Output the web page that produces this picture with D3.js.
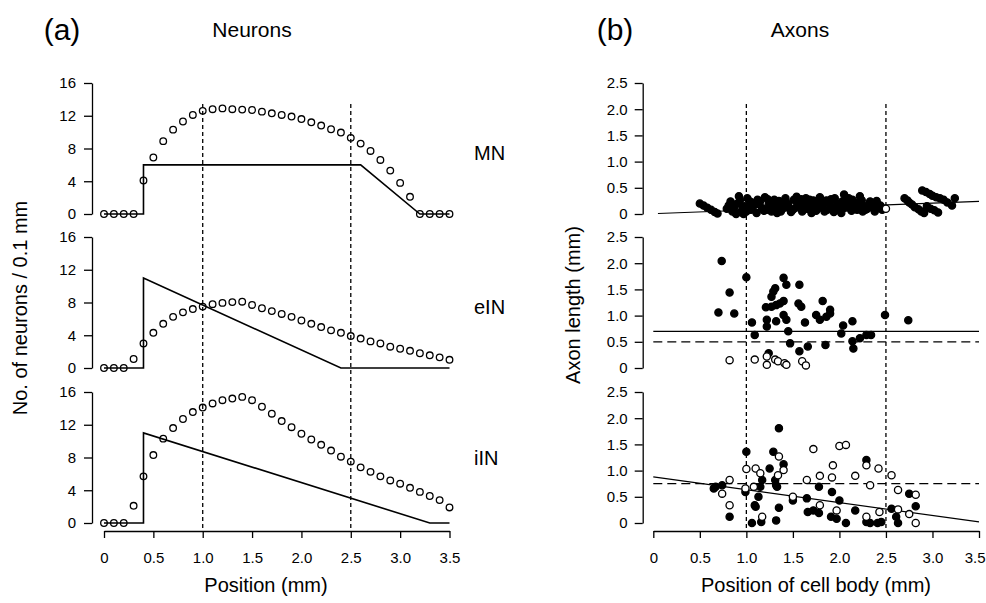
<!DOCTYPE html>
<html>
<head>
<meta charset="utf-8">
<script src="https://cdn.jsdelivr.net/npm/d3@7"></script>
<style>
  body { margin: 0; background: #fff; }
  svg text { font-family: "Liberation Sans", Arial, Helvetica, sans-serif; fill: #000; }
</style>
</head>
<body>
<svg id="chart" width="986" height="603"></svg>
<script>
// ---- panel (a): neuron densities, one value per 0.1 mm ----
const positions = [0, 0.1, 0.2, 0.3, 0.4, 0.5, 0.6, 0.7, 0.8, 0.9, 1.0, 1.1, 1.2, 1.3, 1.4, 1.5, 1.6, 1.7,
  1.8, 1.9, 2.0, 2.1, 2.2, 2.3, 2.4, 2.5, 2.6, 2.7, 2.8, 2.9, 3.0, 3.1, 3.2, 3.3, 3.4, 3.5]

const mnCounts = [0, 0, 0, 0, 4.1, 6.9, 8.9, 10.3, 11.3, 12.1, 12.6, 12.8, 12.9, 12.8, 12.75, 12.7, 12.5, 12.3,
  12.1, 11.9, 11.6, 11.2, 10.8, 10.35, 9.95, 9.3, 8.6, 7.7, 6.6, 5.3, 3.8, 2.1, 0, 0, 0, 0]
const einCounts = [0, 0, 0, 1.1, 3.0, 4.3, 5.4, 6.25, 6.8, 7.2, 7.5, 7.8, 7.95, 8.05, 8.1, 7.7, 7.3, 6.95,
  6.6, 6.25, 5.8, 5.4, 5.0, 4.6, 4.3, 3.9, 3.6, 3.25, 3.0, 2.6, 2.35, 2.1, 1.8, 1.55, 1.3, 1.0]
const iinCounts = [0, 0, 0, 2.1, 5.7, 8.3, 10.3, 11.6, 12.7, 13.55, 14.1, 14.6, 15.0, 15.2, 15.4, 15.0, 14.2, 13.35,
  12.45, 11.7, 10.9, 10.2, 9.55, 8.85, 8.1, 7.5, 6.8, 6.25, 5.7, 5.2, 4.8, 4.3, 3.8, 3.3, 2.8, 1.9]

// model profiles (solid lines)
const mnModelX = [0, 0.4, 0.4, 2.6, 3.2, 3.5]
const mnModelY = [0, 0, 6, 6, 0, 0]
const einModelX = [0, 0.4, 0.4, 2.4, 3.5]
const einModelY = [0, 0, 11, 0, 0]
const iinModelX = [0, 0.4, 0.4, 3.3, 3.5]
const iinModelY = [0, 0, 11, 0, 0]

const rowLabels = ['MN', 'eIN', 'iIN']
const neuronTicks = [0, 4, 8, 12, 16]
const positionTicks = [0, 0.5, 1.0, 1.5, 2.0, 2.5, 3.0, 3.5]
const boundaries = [1.0, 2.5]

// ---- panel (b): axon length vs position of cell body ----
const mnAxonX = [0.50, 0.54, 0.58, 0.62, 0.66, 0.69, 0.79, 0.83, 0.85, 0.88, 0.89, 0.92, 0.93, 0.95, 0.97, 0.98,
  1.01, 1.03, 1.05, 1.08, 1.11, 1.12, 1.14, 1.17, 1.20, 1.22, 1.24, 1.27, 1.29, 1.30, 1.33, 1.34, 1.37, 1.40,
  1.43, 1.46, 1.48, 1.51, 1.53, 1.54, 1.57, 1.60, 1.62, 1.64, 1.66, 1.68, 1.70, 1.73, 1.76, 1.79, 1.81, 1.84,
  1.86, 1.89, 1.92, 1.95, 1.97, 2.00, 2.02, 2.05, 2.07, 2.09, 2.12, 2.14, 2.16, 2.19, 2.20, 2.22, 2.25, 2.27,
  2.30, 2.33, 2.35, 2.38, 2.41, 2.43, 2.46,
  0.81, 0.87, 0.91, 0.96, 1.00, 1.04, 1.07, 1.10, 1.15, 1.19, 1.23, 1.26, 1.31, 1.35, 1.39, 1.42, 1.45, 1.50,
  1.55, 1.59, 1.63, 1.67, 1.72, 1.75, 1.78, 1.83, 1.87, 1.91, 1.94, 1.99, 2.03, 2.06, 2.10, 2.13, 2.18, 2.21,
  2.24, 2.28, 2.32, 2.36, 2.40, 2.44,
  2.70, 2.73, 2.75, 2.78, 2.81, 2.85, 2.88, 2.91,
  2.89, 2.93, 2.97, 3.00, 3.04, 3.08, 3.12, 3.16, 3.21, 3.24, 2.94, 2.98, 3.02, 3.06]
const mnAxonY = [0.20, 0.16, 0.12, 0.08, 0.04, 0.01, 0.10, 0.24, 0.05, 0.18, 0.00, 0.34, 0.26, 0.05, 0.00, 0.15,
  0.30, 0.15, 0.08, 0.21, 0.02, 0.27, 0.18, 0.11, 0.32, 0.08, 0.18, 0.05, 0.20, 0.27, 0.02, 0.15, 0.05, 0.24,
  0.17, 0.11, 0.04, 0.27, 0.12, 0.33, 0.18, 0.05, 0.20, 0.30, 0.10, 0.27, 0.02, 0.15, 0.22, 0.32, 0.12, 0.05,
  0.26, 0.21, 0.12, 0.30, 0.20, 0.08, 0.02, 0.37, 0.26, 0.18, 0.10, 0.27, 0.18, 0.08, 0.22, 0.34, 0.05, 0.15,
  0.10, 0.24, 0.20, 0.05, 0.18, 0.12, 0.08,
  0.16, 0.08, 0.20, 0.12, 0.05, 0.24, 0.14, 0.19, 0.25, 0.06, 0.28, 0.12, 0.06, 0.25, 0.10, 0.30, 0.20, 0.08,
  0.22, 0.28, 0.10, 0.18, 0.26, 0.06, 0.14, 0.20, 0.08, 0.28, 0.04, 0.15, 0.24, 0.12, 0.30, 0.06, 0.20, 0.14,
  0.26, 0.08, 0.18, 0.12, 0.25, 0.16,
  0.30, 0.26, 0.22, 0.18, 0.13, 0.09, 0.05, 0.02,
  0.45, 0.42, 0.38, 0.35, 0.32, 0.30, 0.27, 0.22, 0.16, 0.30, 0.15, 0.10, 0.07, 0.03]
const mnAxonOpenX = [2.5]
const mnAxonOpenY = [0.1]
const mnFitX = [0.05, 3.5]
const mnFitY = [0.01, 0.24]

const einAxonX = [0.70, 0.735, 0.82, 0.87, 1.0, 1.06, 1.09, 1.21, 1.22, 1.22, 1.24, 1.27, 1.27, 1.29, 1.31, 1.32,
  1.32, 1.36, 1.40, 1.40, 1.40, 1.43, 1.43, 1.45, 1.47, 1.56, 1.57, 1.59, 1.57, 1.63, 1.66, 1.75, 1.79, 1.82,
  1.86, 1.85, 1.90, 1.90, 2.02, 2.04, 2.14, 2.14, 2.15, 2.22, 2.29, 2.34, 2.49, 2.74]
const einAxonY = [1.06, 2.04, 1.44, 1.04, 1.73, 0.87, 0.63, 1.16, 0.92, 0.79, 0.28, 1.17, 1.36, 1.46, 1.52, 1.20,
  0.89, 1.23, 1.28, 1.72, 1.01, 1.59, 0.92, 0.70, 0.47, 1.23, 1.59, 1.17, 0.32, 0.87, 0.41, 1.01, 0.92, 1.28,
  0.98, 0.44, 1.04, 1.11, 0.66, 0.81, 0.89, 0.51, 0.37, 0.57, 0.63, 0.63, 1.01, 0.91]
const einAxonOpenX = [0.82, 1.09, 1.22, 1.22, 1.31, 1.34, 1.41, 1.43, 1.60, 1.64]
const einAxonOpenY = [0.15, 0.16, 0.06, 0.22, 0.16, 0.13, 0.09, 0.06, 0.13, 0.05]
const einSolid = 0.70
const einDashed = 0.50

const iinAxonX = [0.65, 0.67, 0.74, 0.82, 1.0, 0.99, 1.06, 1.09, 1.10, 1.13, 1.15, 1.16, 1.17, 1.25, 1.29, 1.31,
  1.32, 1.33, 1.32, 1.35, 1.35, 1.40, 1.50, 1.65, 1.66, 1.72, 1.78, 1.78, 1.91, 1.92, 1.97, 2.00, 2.07, 2.17,
  2.29, 2.29, 2.33, 2.41, 2.45, 2.56, 2.61, 2.63, 2.75, 2.82]
const iinAxonY = [0.66, 0.69, 0.72, 0.12, 1.36, 0.59, 0.0, 0.34, 0.31, 0.50, 0.69, 0.02, 0.82, 1.04, 1.36, 0.82,
  0.72, 0.69, 0.05, 1.81, 0.29, 1.12, 0.43, 0.47, 0.21, 0.24, 0.19, 0.69, 0.12, 0.59, 0.08, 0.43, 0.0, 0.24,
  1.20, 0.02, 0.0, 0.0, 0.02, 0.27, 0.12, 0.0, 0.56, 0.32]
const iinAxonOpenX = [0.74, 0.82, 0.82, 0.99, 1.0, 1.1, 1.08, 1.15, 1.17, 1.34, 1.35, 1.40, 1.50, 1.65, 1.72,
  1.79, 1.79, 1.93, 1.92, 1.97, 2.0, 2.07, 2.17, 2.29, 2.29, 2.33, 2.42, 2.43, 2.56, 2.63, 2.63, 2.75, 2.82, 2.82]
const iinAxonOpenY = [0.56, 0.82, 0.34, 0.66, 1.03, 1.04, 0.69, 0.95, 0.12, 0.91, 1.27, 1.01, 0.50, 0.82, 1.41,
  0.90, 0.34, 1.10, 0.87, 0.24, 1.47, 1.49, 0.90, 0.12, 1.10, 0.72, 1.04, 0.21, 0.91, 0.63, 0.26, 0.17, 0.54, 0.0]
const iinFitX = [0, 3.5]
const iinFitY = [0.88, 0.02]
const iinDashed = 0.75

const axonTicks = [0, 0.5, 1.0, 1.5, 2.0, 2.5]

// ---- layout ----
const rows = [{ top: 83, bottom: 214 }, { top: 237, bottom: 368 }, { top: 392, bottom: 523 }]
const rowLabelY = [160, 314, 465]
const xAxisY = 531
const dashTop = 104
const dashBottom = 528
const tickFont = '"DejaVu Sans", Verdana, sans-serif'

const svg = d3.select('#chart')

const xA = d3.scaleLinear().domain([0, 3.5]).range([104, 449.5])
const xB = d3.scaleLinear().domain([0, 3.5]).range([653.3, 979])
const yAxisXA = 92
const yAxisXB = 642.7

const fmt = d => (d === 0 ? '0' : d3.format('.1f')(d))

function styleAxis(g) {
  g.selectAll('path').attr('stroke', '#000').attr('stroke-width', 1.3)
  g.selectAll('line').attr('stroke', '#000').attr('stroke-width', 1.3)
  g.selectAll('text').attr('font-size', 15).attr('fill', '#000').attr('font-family', tickFont)
}

// vertical dashed boundary lines
;[xA, xB].forEach(x => {
  svg.append('g')
    .selectAll('line')
    .data(boundaries)
    .enter()
    .append('line')
    .attr('x1', d => x(d))
    .attr('x2', d => x(d))
    .attr('y1', dashTop)
    .attr('y2', dashBottom)
    .attr('stroke', '#000')
    .attr('stroke-width', 1.3)
    .attr('stroke-dasharray', '4,3')
})

// ---- panel (a) rows ----
const neuronSeries = [
  { counts: mnCounts, mx: mnModelX, my: mnModelY },
  { counts: einCounts, mx: einModelX, my: einModelY },
  { counts: iinCounts, mx: iinModelX, my: iinModelY }
]

neuronSeries.forEach((s, i) => {
  const y = d3.scaleLinear().domain([0, 16]).range([rows[i].bottom, rows[i].top])

  svg.append('g')
    .attr('transform', `translate(${yAxisXA},0)`)
    .call(d3.axisLeft(y).tickValues(neuronTicks).tickSize(8).tickSizeOuter(0).tickPadding(8).tickFormat(d3.format('d')))
    .call(styleAxis)

  const model = s.mx.map((v, k) => [v, s.my[k]])
  svg.append('path')
    .datum(model)
    .attr('fill', 'none')
    .attr('stroke', '#000')
    .attr('stroke-width', 1.6)
    .attr('d', d3.line().x(d => xA(d[0])).y(d => y(d[1])))

  svg.append('g')
    .selectAll('circle')
    .data(s.counts)
    .enter()
    .append('circle')
    .attr('cx', (d, k) => xA(positions[k]))
    .attr('cy', d => y(d))
    .attr('r', 3.3)
    .attr('fill', 'none')
    .attr('stroke', '#000')
    .attr('stroke-width', 1.3)

  svg.append('text')
    .text(rowLabels[i])
    .attr('x', 474)
    .attr('y', rowLabelY[i])
    .attr('font-size', 20)
})

svg.append('g')
  .attr('transform', `translate(0,${xAxisY})`)
  .call(d3.axisBottom(xA).tickValues(positionTicks).tickSize(7).tickSizeOuter(0).tickPadding(14).tickFormat(fmt))
  .call(styleAxis)

// ---- panel (b) rows ----
function dots(x, y, xs, ys, filled) {
  svg.append('g')
    .selectAll('circle')
    .data(xs)
    .enter()
    .append('circle')
    .attr('cx', d => x(d))
    .attr('cy', (d, k) => y(ys[k]))
    .attr('r', 3.6)
    .attr('fill', filled ? '#000' : '#fff')
    .attr('stroke', '#000')
    .attr('stroke-width', 1.3)
}

function hline(x, y, v, dashed) {
  svg.append('line')
    .attr('x1', x(0))
    .attr('x2', x(3.5))
    .attr('y1', y(v))
    .attr('y2', y(v))
    .attr('stroke', '#000')
    .attr('stroke-width', 1.2)
    .attr('stroke-dasharray', dashed ? '9,5' : null)
}

function fitLine(x, y, xs, ys) {
  svg.append('path')
    .datum(xs.map((v, k) => [v, ys[k]]))
    .attr('fill', 'none')
    .attr('stroke', '#000')
    .attr('stroke-width', 1.2)
    .attr('d', d3.line().x(d => x(d[0])).y(d => y(d[1])))
}

const yB = rows.map(r => d3.scaleLinear().domain([0, 2.5]).range([r.bottom, r.top]))

yB.forEach(y => {
  svg.append('g')
    .attr('transform', `translate(${yAxisXB},0)`)
    .call(d3.axisLeft(y).tickValues(axonTicks).tickSize(8).tickSizeOuter(0).tickPadding(7).tickFormat(fmt))
    .call(styleAxis)
})

// MN axons
fitLine(xB, yB[0], mnFitX, mnFitY)
dots(xB, yB[0], mnAxonX, mnAxonY, true)
dots(xB, yB[0], mnAxonOpenX, mnAxonOpenY, false)

// eIN axons
hline(xB, yB[1], einSolid, false)
hline(xB, yB[1], einDashed, true)
dots(xB, yB[1], einAxonX, einAxonY, true)
dots(xB, yB[1], einAxonOpenX, einAxonOpenY, false)

// iIN axons
fitLine(xB, yB[2], iinFitX, iinFitY)
hline(xB, yB[2], iinDashed, true)
dots(xB, yB[2], iinAxonX, iinAxonY, true)
dots(xB, yB[2], iinAxonOpenX, iinAxonOpenY, false)

const xAxisB = svg.append('g')
  .attr('transform', `translate(0,${xAxisY})`)
  .call(d3.axisBottom(xB).tickValues(positionTicks).tickSize(7).tickSizeOuter(0).tickPadding(14).tickFormat(fmt))
  .call(styleAxis)
// last label sits at the page edge: keep it inside
xAxisB.selectAll('.tick text').filter(d => d === 3.5).attr('text-anchor', 'end').attr('dx', 6)

// ---- titles and axis labels ----
svg.append('text').text('(a)').attr('x', 62).attr('y', 40).attr('text-anchor', 'middle').attr('font-size', 30)
svg.append('text').text('Neurons').attr('x', 252).attr('y', 37).attr('text-anchor', 'middle').attr('font-size', 21)
svg.append('text').text('(b)').attr('x', 615).attr('y', 40).attr('text-anchor', 'middle').attr('font-size', 30)
svg.append('text').text('Axons').attr('x', 800).attr('y', 37).attr('text-anchor', 'middle').attr('font-size', 21)

svg.append('text').text('Position (mm)')
  .attr('x', 266).attr('y', 592).attr('text-anchor', 'middle').attr('font-size', 20)
svg.append('text').text('Position of cell body (mm)')
  .attr('x', 816).attr('y', 592).attr('text-anchor', 'middle').attr('font-size', 20)

svg.append('text').text('No. of neurons / 0.1 mm')
  .attr('transform', 'translate(27,308) rotate(-90)').attr('text-anchor', 'middle').attr('font-size', 20)
svg.append('text').text('Axon length (mm)')
  .attr('transform', 'translate(580,305) rotate(-90)').attr('text-anchor', 'middle').attr('font-size', 20)
</script>
</body>
</html>
